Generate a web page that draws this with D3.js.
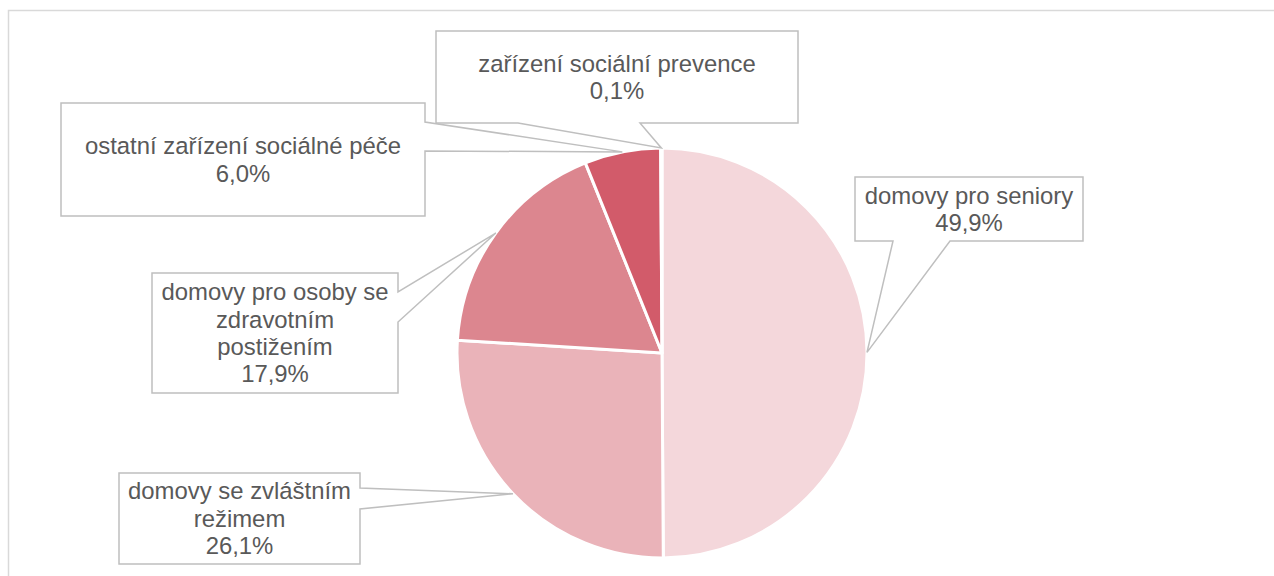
<!DOCTYPE html>
<html>
<head>
<meta charset="utf-8">
<script src="https://cdn.jsdelivr.net/npm/d3@7"></script>
<style>
  html, body { margin: 0; padding: 0; background: #ffffff; }
  svg { display: block; }
</style>
</head>
<body>
<svg id="chart" width="1274" height="576"></svg>
<script>
// ---- data ----
const categories = [
  "domovy pro seniory",
  "domovy se zvláštním režimem",
  "domovy pro osoby se zdravotním postižením",
  "ostatní zařízení sociálné péče",
  "zařízení sociální prevence"
];
const shares = [49.9, 26.1, 17.9, 6.0, 0.1];
const labelLines = [
  ["domovy pro seniory"],
  ["domovy se zvláštním", "režimem"],
  ["domovy pro osoby se", "zdravotním", "postižením"],
  ["ostatní zařízení sociálné péče"],
  ["zařízení sociální prevence"]
];
const colors = ["#F4D7DB", "#EAB3B9", "#DC868F", "#D25B6A", "#B52A3C"];

// ---- layout (callout boxes) ----
// box: [left, top, right, bottom]; side: edge that carries the pointer; base: two points on that edge
const callouts = [
  { box: [855, 177, 1083, 241], side: "bottom", base: [893, 950] },
  { box: [119, 473, 360, 564], side: "right", base: [488, 509] },
  { box: [152, 273, 398, 393], side: "right", base: [292, 322] },
  { box: [61, 103, 425, 216], side: "right", base: [122, 151] },
  { box: [436, 31, 798, 123], side: "bottom", base: [518, 640] }
];

const cx = 662, cy = 353, R = 205;
const fontSize = 23.9, lineH = 27.4;
const locale = d3.formatLocale({ decimal: ",", thousands: " ", grouping: [3], currency: ["", " Kč"] });
const fmt = locale.format(".1f");

const svg = d3.select("#chart");

// outer chart border (extends past the right and bottom edges)
svg.append("rect")
  .attr("x", 8.5).attr("y", 10.5)
  .attr("width", 1300).attr("height", 600)
  .attr("fill", "none").attr("stroke", "#D9D9D9").attr("stroke-width", 1.5);

const pie = d3.pie().sort(null).value(d => d).startAngle(0).endAngle(2 * Math.PI);
const arcs = pie(shares);
const arc = d3.arc().innerRadius(0).outerRadius(R);

const g = svg.append("g").attr("transform", `translate(${cx},${cy})`);
g.selectAll("path.slice")
  .data(arcs)
  .join("path")
  .attr("class", "slice")
  .attr("d", arc)
  .attr("fill", (d, i) => colors[i])
  .attr("stroke", "#ffffff")
  .attr("stroke-width", 3)
  .attr("stroke-linejoin", "round");

// callouts
arcs.forEach((a, i) => {
  const c = callouts[i];
  const mid = (a.startAngle + a.endAngle) / 2;
  const tx = cx + R * Math.sin(mid);
  const ty = cy - R * Math.cos(mid);
  const [l, t, r, b] = c.box;
  let pts;
  if (c.side === "right") {
    pts = [[l, t], [r, t], [r, c.base[0]], [tx, ty], [r, c.base[1]], [r, b], [l, b]];
  } else {
    pts = [[l, t], [r, t], [r, b], [c.base[1], b], [tx, ty], [c.base[0], b], [l, b]];
  }
  svg.append("path")
    .attr("d", d3.line()(pts) + "Z")
    .attr("fill", "#ffffff")
    .attr("stroke", "#BFBFBF")
    .attr("stroke-width", 1.5)
    .attr("stroke-linejoin", "miter");

  const lines = labelLines[i].concat([fmt(shares[i]) + "%"]);
  const midY = (t + b) / 2;
  const startY = midY - (lines.length - 1) * lineH / 2;
  const txt = svg.append("text")
    .attr("x", (l + r) / 2)
    .attr("text-anchor", "middle")
    .attr("font-family", "Liberation Sans, Arial, sans-serif")
    .attr("font-size", fontSize)
    .attr("fill", "#595959");
  lines.forEach((s, k) => {
    txt.append("tspan")
      .attr("x", (l + r) / 2)
      .attr("y", startY + k * lineH + fontSize * 0.35)
      .text(s);
  });
});
</script>
</body>
</html>
